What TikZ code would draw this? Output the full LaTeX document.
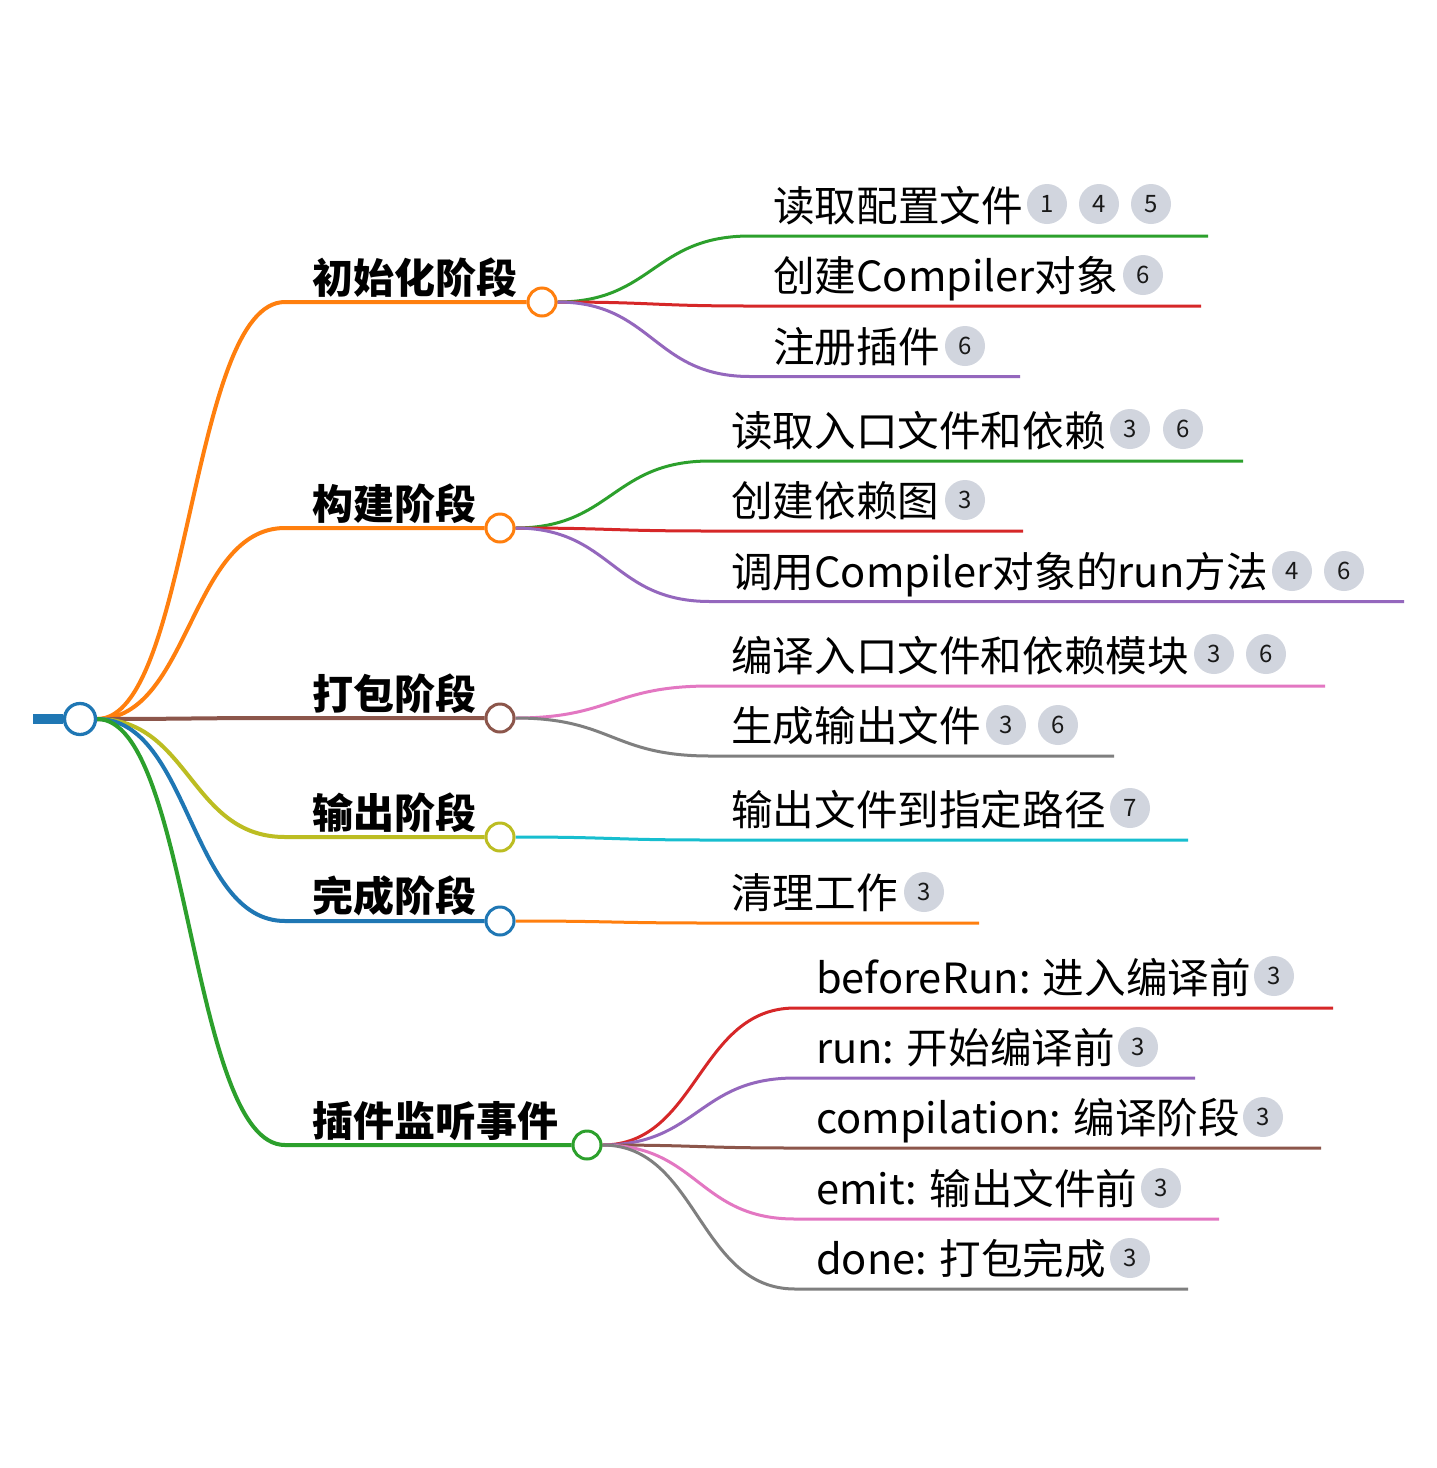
\documentclass[tikz,border=0pt]{standalone}
\usepackage{fontspec}
\setmainfont{Noto Sans CJK SC}
\usetikzlibrary{backgrounds}
\definecolor{cBlue}{HTML}{1F77B4}
\definecolor{cOrange}{HTML}{FF7F0E}
\definecolor{cGreen}{HTML}{2CA02C}
\definecolor{cRed}{HTML}{D62728}
\definecolor{cPurple}{HTML}{9467BD}
\definecolor{cBrown}{HTML}{8C564B}
\definecolor{cPink}{HTML}{E377C2}
\definecolor{cGray}{HTML}{7F7F7F}
\definecolor{cOlive}{HTML}{BCBD22}
\definecolor{cCyan}{HTML}{17BECF}
\definecolor{badgefill}{RGB}{209,213,222}
\tikzset{
 l1text/.style={font=\fontsize{41}{48}\selectfont\bfseries, anchor=base west, inner sep=0pt, text=black},
 l2text/.style={font=\fontsize{41.6}{48}\selectfont, anchor=base west, inner sep=0pt, text=black},
 badge/.style={circle, fill=badgefill, minimum size=40pt, inner sep=0pt, font=\fontsize{24}{28}\selectfont, text=black!90},
 hub/.style={circle, draw=#1, fill=white, line width=3pt, minimum size=28pt, inner sep=0pt},
 lone/.style={draw=#1, line width=4pt},
 ltwo/.style={draw=#1, line width=3pt},
}
\begin{document}
\begin{tikzpicture}[x=1pt,y=-1pt]
\useasboundingbox (0,0) rectangle (1437,1468);
% root
\node[hub=cBlue, minimum size=31pt, line width=3.3pt] (root) at (80,719) {};
\coordinate (stub) at (33,719);
% level 1 hubs
\node[hub=cOrange] (c1) at (542,302) {};
\node[hub=cOrange] (c2) at (500,528) {};
\node[hub=cBrown] (c3) at (500,718) {};
\node[hub=cOlive] (c4) at (500,837) {};
\node[hub=cBlue] (c5) at (500,921) {};
\node[hub=cGreen] (c6) at (587,1145) {};
\coordinate (k1) at (285,302);
\coordinate (k2) at (285,528);
\coordinate (k3) at (285,718);
\coordinate (k4) at (285,837);
\coordinate (k5) at (285,921);
\coordinate (k6) at (285,1145);
% level 1 texts
\node[l1text] (t1) at (312,293) {初始化阶段};
\node[l1text] (t2) at (312,519) {构建阶段};
\node[l1text] (t3) at (312,709) {打包阶段};
\node[l1text] (t4) at (312,828) {输出阶段};
\node[l1text] (t5) at (312,911) {完成阶段};
\node[l1text] (t6) at (312,1136) {插件监听事件};
% level 2: init
\coordinate (a1s) at (750,236); \coordinate (a1e) at (1208,236);
\coordinate (a2s) at (750,306); \coordinate (a2e) at (1201,306);
\coordinate (a3s) at (750,376.5); \coordinate (a3e) at (1020,376.5);
\node[l2text] (a1) at (773,221.5) {读取配置文件};
\node[l2text] (a2) at (773,291.5) {创建Compiler对象};
\node[l2text] (a3) at (773,362) {注册插件};
\node[badge] (a1b1) at (1047,204) {1};
\node[badge] (a1b2) at (1099,204) {4};
\node[badge] (a1b3) at (1151,204) {5};
\node[badge] (a2b1) at (1143,275) {6};
\node[badge] (a3b1) at (965,346) {6};
% level 2: build
\coordinate (b1s) at (710,461); \coordinate (b1e) at (1243,461);
\coordinate (b2s) at (710,531); \coordinate (b2e) at (1023,531);
\coordinate (b3s) at (710,601.5); \coordinate (b3e) at (1404,601.5);
\node[l2text] (b1) at (731,446.5) {读取入口文件和依赖};
\node[l2text] (b2) at (731,516.5) {创建依赖图};
\node[l2text] (b3) at (731,587) {调用Compiler对象的run方法};
\node[badge] (b1b1) at (1130,429) {3};
\node[badge] (b1b2) at (1183,429) {6};
\node[badge] (b2b1) at (965,500) {3};
\node[badge] (b3b1) at (1292,571) {4};
\node[badge] (b3b2) at (1344,571) {6};
% level 2: pack
\coordinate (p1s) at (710,686); \coordinate (p1e) at (1325,686);
\coordinate (p2s) at (710,756); \coordinate (p2e) at (1114,756);
\node[l2text] (p1) at (731,671.5) {编译入口文件和依赖模块};
\node[l2text] (p2) at (731,741.5) {生成输出文件};
\node[badge] (p1b1) at (1214,654) {3};
\node[badge] (p1b2) at (1266,654) {6};
\node[badge] (p2b1) at (1006,725) {3};
\node[badge] (p2b2) at (1058,725) {6};
% level 2: output
\coordinate (o1s) at (710,840); \coordinate (o1e) at (1188,840);
\node[l2text] (o1) at (731,825.5) {输出文件到指定路径};
\node[badge] (o1b1) at (1130,808) {7};
% level 2: finish
\coordinate (f1s) at (710,923); \coordinate (f1e) at (979,923);
\node[l2text] (f1) at (731,908.5) {清理工作};
\node[badge] (f1b1) at (924,892) {3};
% level 2: plugin events
\coordinate (e1s) at (795,1008); \coordinate (e1e) at (1333,1008);
\coordinate (e2s) at (795,1078); \coordinate (e2e) at (1195,1078);
\coordinate (e3s) at (795,1148); \coordinate (e3e) at (1321,1148);
\coordinate (e4s) at (795,1219); \coordinate (e4e) at (1219,1219);
\coordinate (e5s) at (795,1289); \coordinate (e5e) at (1188,1289);
\node[l2text] (e1) at (816,993.5) {beforeRun: 进入编译前};
\node[l2text] (e2) at (816,1063.5) {run: 开始编译前};
\node[l2text] (e3) at (816,1133.5) {compilation: 编译阶段};
\node[l2text] (e4) at (816,1204.5) {emit: 输出文件前};
\node[l2text] (e5) at (816,1274.5) {done: 打包完成};
\node[badge] (e1b1) at (1274,976) {3};
\node[badge] (e2b1) at (1138,1047) {3};
\node[badge] (e3b1) at (1263,1117) {3};
\node[badge] (e4b1) at (1161,1188) {3};
\node[badge] (e5b1) at (1130,1258) {3};
% connectors
\begin{scope}[on background layer]
\fill[white] (0,0) rectangle (1437,1468);
\draw[draw=cBlue, line width=10pt] (stub) -- (root.west);
\draw[lone=cOrange] (root.east) .. controls (190,719) and (190,302) .. (k1) -- (c1.west);
\draw[lone=cOrange] (root.east) .. controls (190,719) and (190,528) .. (k2) -- (c2.west);
\draw[lone=cBrown] (root.east) .. controls (190,719) and (190,718) .. (k3) -- (c3.west);
\draw[lone=cOlive] (root.east) .. controls (190,719) and (190,837) .. (k4) -- (c4.west);
\draw[lone=cBlue] (root.east) .. controls (190,719) and (190,921) .. (k5) -- (c5.west);
\draw[lone=cGreen] (root.east) .. controls (190,719) and (190,1145) .. (k6) -- (c6.west);
% init
\draw[ltwo=cGreen] (c1.east) .. controls (653,302) and (653,236) .. (a1s) -- (a1e);
\draw[ltwo=cRed] (c1.east) .. controls (653,302) and (653,306) .. (a2s) -- (a2e);
\draw[ltwo=cPurple] (c1.east) .. controls (653,302) and (653,376.5) .. (a3s) -- (a3e);
% build
\draw[ltwo=cGreen] (c2.east) .. controls (612,528) and (612,461) .. (b1s) -- (b1e);
\draw[ltwo=cRed] (c2.east) .. controls (612,528) and (612,531) .. (b2s) -- (b2e);
\draw[ltwo=cPurple] (c2.east) .. controls (612,528) and (612,601.5) .. (b3s) -- (b3e);
% pack
\draw[ltwo=cPink] (c3.east) .. controls (612,718) and (612,686) .. (p1s) -- (p1e);
\draw[ltwo=cGray] (c3.east) .. controls (612,718) and (612,756) .. (p2s) -- (p2e);
% output
\draw[ltwo=cCyan] (c4.east) .. controls (612,837) and (612,840) .. (o1s) -- (o1e);
% finish
\draw[ltwo=cOrange] (c5.east) .. controls (612,921) and (612,923) .. (f1s) -- (f1e);
% plugin
\draw[ltwo=cRed] (c6.east) .. controls (698,1145) and (698,1008) .. (e1s) -- (e1e);
\draw[ltwo=cPurple] (c6.east) .. controls (698,1145) and (698,1078) .. (e2s) -- (e2e);
\draw[ltwo=cBrown] (c6.east) .. controls (698,1145) and (698,1148) .. (e3s) -- (e3e);
\draw[ltwo=cPink] (c6.east) .. controls (698,1145) and (698,1219) .. (e4s) -- (e4e);
\draw[ltwo=cGray] (c6.east) .. controls (698,1145) and (698,1289) .. (e5s) -- (e5e);
\end{scope}
\end{tikzpicture}
\end{document}
